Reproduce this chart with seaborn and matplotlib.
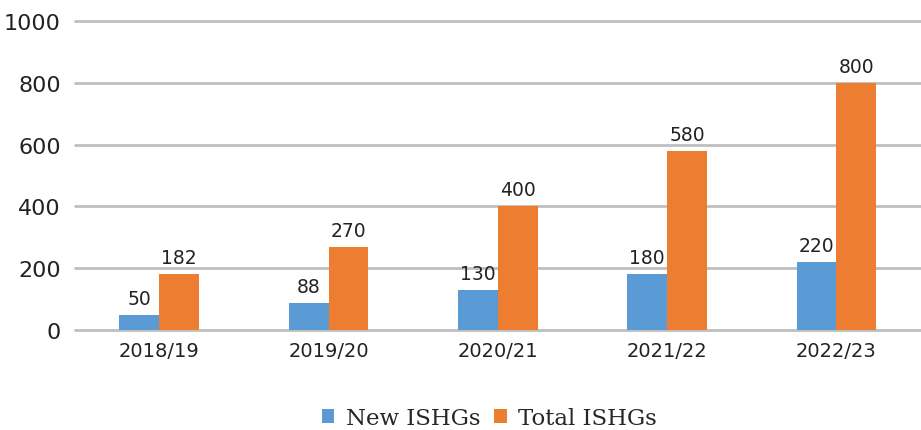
import pandas as pd
import numpy as np
import matplotlib.pyplot as plt
import seaborn as sns

# Values
years = ['2018/19', '2019/20', '2020/21', '2021/22', '2022/23']
new_ishgs = [50, 88, 130, 180, 220]
total_ishgs = [182, 270, 400, 580, 800]
series_names = ['New ISHGs', 'Total ISHGs']
colors = ['#5B9BD5', '#ED7D31']

# Long form table for seaborn
data = pd.DataFrame({
    'year': years * 2,
    'value': new_ishgs + total_ishgs,
    'series': [series_names[0]] * len(years) + [series_names[1]] * len(years),
})

sns.set_style('white')
plt.rcParams['font.family'] = ['DejaVu Sans']

fig = plt.figure(figsize=(9.21, 4.31), dpi=100)
ax = fig.add_axes([0.081, 0.232, 0.919, 0.717])

sns.barplot(data=data, x='year', y='value', hue='series', palette=colors,
            width=0.47, saturation=1, linewidth=0, ax=ax, legend=True)

# Value labels above bars
for container in ax.containers:
    ax.bar_label(container, padding=5, fontsize=13.5, color='#222222')

ax.set_ylim(0, 1000)
ax.set_yticks(np.arange(0, 1001, 200))
ax.yaxis.grid(True, color='#BFBFBF', linewidth=2)
for line in ax.get_ygridlines():
    line.set_clip_on(False)
ax.set_axisbelow(True)
for side in ['top', 'right', 'left', 'bottom']:
    ax.spines[side].set_visible(False)
ax.tick_params(axis='y', labelsize=16, length=0, pad=10, colors='#222222')
ax.tick_params(axis='x', labelsize=14, length=0, pad=8, colors='#222222')
ax.set_xlabel('')
ax.set_ylabel('')

leg = ax.legend(loc='center', bbox_to_anchor=(0.49, -0.285), ncol=2,
                frameon=False, handlelength=0.55, handleheight=0.55,
                handletextpad=0.5, columnspacing=0.6,
                prop={'family': 'DejaVu Serif', 'size': 16.5})

fig.savefig('out.png', dpi=100)
